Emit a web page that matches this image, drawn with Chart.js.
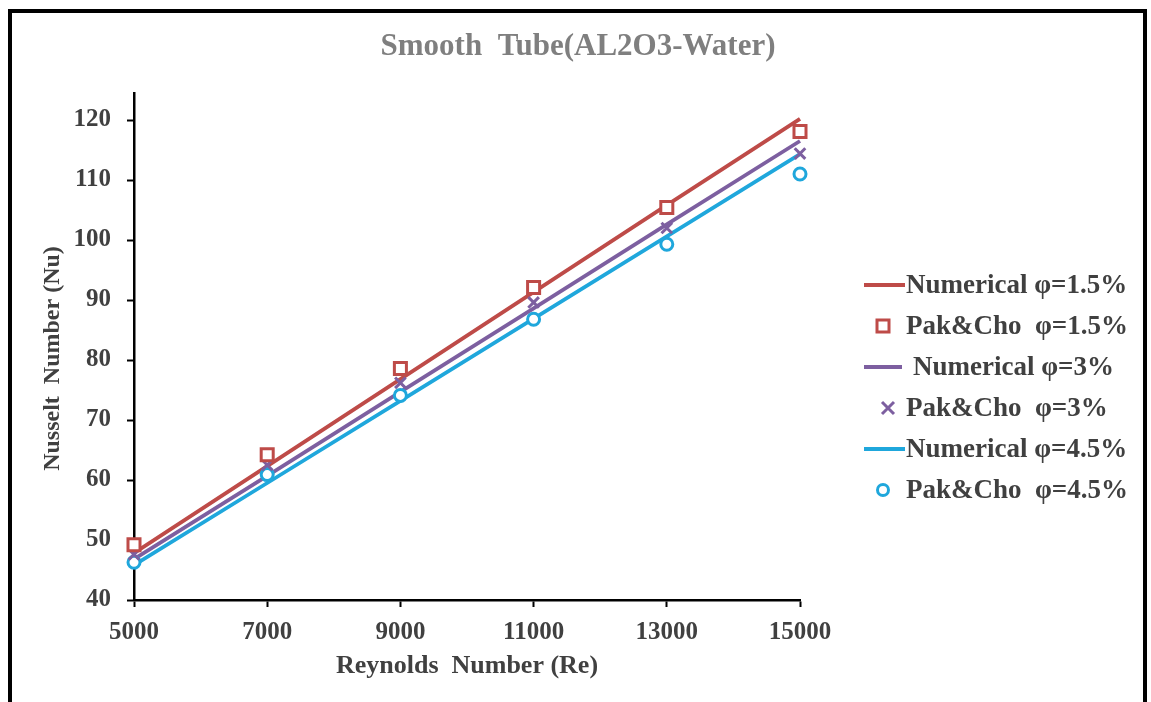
<!DOCTYPE html>
<html>
<head>
<meta charset="utf-8">
<title>Smooth Tube (AL2O3-Water)</title>
<script src="https://cdn.jsdelivr.net/npm/chart.js@4.4.1/dist/chart.umd.min.js"></script>
<style>
    body { margin: 0; background: #fff; overflow: hidden; }
    #wrap { position: relative; width: 1151px; height: 702px; }
    #frame {
        position: absolute; left: 8px; top: 9px; width: 1131px; height: 720px;
        border: 4px solid #000; pointer-events: none;
    }
    canvas { position: absolute; left: 0; top: 0; }
</style>
</head>
<body>
<div id="wrap">
    <canvas id="nuChart" width="1151" height="702"></canvas>
    <div id="frame"></div>
</div>
<script>
// ================= DATA =================
let reynolds = [5000, 7000, 9000, 11000, 13000, 15000];

let numerical15 = [47.8, 62.3, 76.8, 91.3, 105.8, 120.2];
let pakCho15 = [49.2, 64.2, 78.6, 92.1, 105.4, 118.1];

let numerical3 = [46.8, 60.7, 74.7, 88.6, 102.6, 116.5];
let pakCho3 = [47.6, 62.5, 76.2, 89.6, 102.0, 114.4];

let numerical45 = [45.8, 59.5, 73.2, 86.9, 100.6, 114.3];
let pakCho45 = [46.3, 60.9, 74.1, 86.8, 99.3, 111.0];

let xTicks = [5000, 7000, 9000, 11000, 13000, 15000];
let yTicks = [40, 50, 60, 70, 80, 90, 100, 110, 120];

const RED = "#BE4B48";
const PURPLE = "#7D5FA0";
const CYAN = "#1FA7DC";
const TEXT = "#404040";
const SERIF = "'Liberation Serif', 'Times New Roman', serif";

function points(ys) {
    return reynolds.map((re, i) => ({ x: re, y: ys[i] }));
}

function lineSet(label, ys, color) {
    return {
        label, data: points(ys), showLine: true, clip: false,
        borderColor: color, borderWidth: 3.8,
        pointRadius: 0, pointHoverRadius: 0, order: 2
    };
}

function markSet(label, ys, color, style, radius) {
    return {
        label, data: points(ys), showLine: false, clip: false,
        pointStyle: style, pointRadius: radius,
        borderColor: color, backgroundColor: "#fff",
        pointBorderWidth: 3, order: 1
    };
}

// ================= TITLE + LEGEND =================
const legendRows = [285, 326, 367, 408, 449, 490];

const sidePlugin = {
    id: "sideLegend",
    afterDraw(chart) {
        let ctx = chart.ctx;
        ctx.save();

        // title
        ctx.fillStyle = "#7F7F7F";
        ctx.font = "bold 31px " + SERIF;
        ctx.textAlign = "center";
        ctx.textBaseline = "middle";
        ctx.fillText("Smooth  Tube(AL2O3-Water)", 578, 47);

        // legend
        ctx.textAlign = "left";
        ctx.font = "bold 27px " + SERIF;
        chart.data.datasets.forEach((ds, i) => {
            let y = legendRows[i];
            let color = ds.borderColor;
            ctx.strokeStyle = color;
            if (ds.showLine) {
                ctx.lineWidth = 3.8;
                ctx.beginPath();
                ctx.moveTo(864, y);
                ctx.lineTo(ds.label === "Numerical φ=3%" ? 902 : 905, y);
                ctx.stroke();
            } else {
                ctx.lineWidth = 3;
                ctx.fillStyle = "#fff";
                if (ds.pointStyle === "rect") {
                    ctx.fillRect(877, y - 6, 12, 12);
                    ctx.strokeRect(877, y - 6, 12, 12);
                } else if (ds.pointStyle === "circle") {
                    ctx.beginPath();
                    ctx.arc(883, y, 5.5, 0, Math.PI * 2);
                    ctx.fill();
                    ctx.stroke();
                } else {
                    ctx.beginPath();
                    ctx.moveTo(882, y - 6); ctx.lineTo(894, y + 6);
                    ctx.moveTo(894, y - 6); ctx.lineTo(882, y + 6);
                    ctx.stroke();
                }
            }
            ctx.fillStyle = TEXT;
            let tx = ds.label === "Numerical φ=3%" ? 913 : 906;
            ctx.fillText(ds.label, tx, y + 1);
        });
        ctx.restore();
    }
};

// ================= CHART =================
new Chart(document.getElementById("nuChart"), {
    type: "scatter",
    data: {
        datasets: [
            lineSet("Numerical φ=1.5%", numerical15, RED),
            markSet("Pak&Cho  φ=1.5%", pakCho15, RED, "rect", 8.5),
            lineSet("Numerical φ=3%", numerical3, PURPLE),
            markSet("Pak&Cho  φ=3%", pakCho3, PURPLE, "crossRot", 7.5),
            lineSet("Numerical φ=4.5%", numerical45, CYAN),
            markSet("Pak&Cho  φ=4.5%", pakCho45, CYAN, "circle", 6)
        ]
    },
    options: {
        responsive: false,
        animation: false,
        layout: { padding: { top: 93, right: 351, left: 0, bottom: 0 } },
        plugins: {
            legend: { display: false },
            title: { display: false },
            tooltip: { enabled: false }
        },
        scales: {
            x: {
                type: "linear",
                min: 5000, max: 15000,
                afterFit: (s) => { s.height = 102; },
                afterBuildTicks: (s) => { s.ticks = xTicks.map(v => ({ value: v })); },
                grid: { drawOnChartArea: false, tickLength: 7, tickColor: "#000", tickWidth: 2 },
                border: { color: "#000", width: 2.5 },
                ticks: {
                    color: TEXT, padding: 11,
                    font: { family: SERIF, size: 25, weight: "bold" },
                    callback: (v) => String(v)
                },
                title: {
                    display: true, text: "Reynolds  Number (Re)", color: TEXT,
                    font: { family: SERIF, size: 26, weight: "bold" },
                    padding: { bottom: 20 }
                }
            },
            y: {
                min: 40, max: 124.5,
                afterFit: (s) => { s.width = 134; },
                afterBuildTicks: (s) => { s.ticks = yTicks.map(v => ({ value: v })); },
                grid: { drawOnChartArea: false, tickLength: 7, tickColor: "#000", tickWidth: 2 },
                border: { color: "#000", width: 2.5 },
                ticks: {
                    color: TEXT, padding: 16,
                    font: { family: SERIF, size: 25, weight: "bold" }
                },
                title: {
                    // trailing spaces push the rotated text a little lower
                    display: true, text: "Nusselt  Number (Nu)    ", color: TEXT,
                    font: { family: SERIF, size: 24, weight: "bold" },
                    padding: { top: 38 }
                }
            }
        }
    },
    plugins: [sidePlugin]
});
</script>
</body>
</html>
